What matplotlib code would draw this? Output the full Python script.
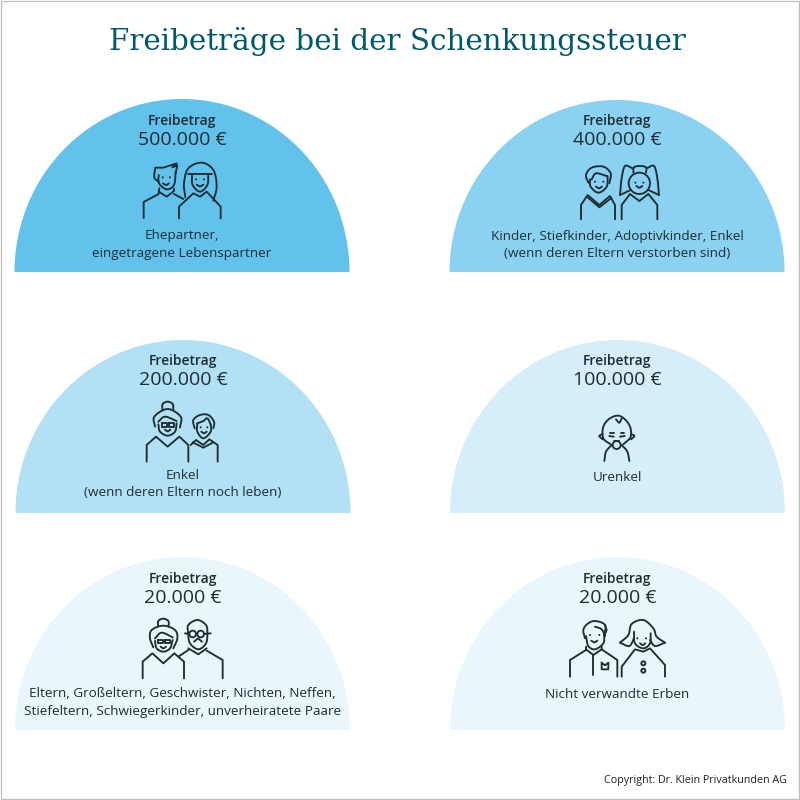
import numpy as np
import matplotlib
matplotlib.use('Agg')
import matplotlib.pyplot as plt
from matplotlib.patches import Polygon, Circle, Rectangle

# values from the chart
freibetrag = ['500.000 €', '400.000 €', '200.000 €', '100.000 €', '20.000 €', '20.000 €']
gruppen = ['Ehepartner,\neingetragene Lebenspartner',
           'Kinder, Stiefkinder, Adoptivkinder, Enkel\n(wenn deren Eltern verstorben sind)',
           'Enkel\n(wenn deren Eltern noch leben)',
           'Urenkel',
           'Eltern, Großeltern, Geschwister, Nichten, Neffen,\nStiefeltern, Schwiegerkinder, unverheiratete Paare',
           'Nicht verwandte Erben']

# layout and style
colors = ['#62c2ec', '#8bd2f2', '#b2e1f5', '#d6eef9', '#ebf6fc', '#ebf6fc']
centers_x = [182, 617, 183, 617.5, 182.5, 617.5]
base_y = [272, 272, 513, 513, 730, 730]
top_y = [99, 100, 340, 340, 557, 557]
half_w = [167.5, 167.5, 167.5, 167.5, 167.5, 167.5]
label_y = [121, 121, 361, 361, 579, 579]
gruppe_y = [244.5, 245, 484, 477.5, 702.5, 694.5]
ink = '#1f2d33'
plt.rcParams['font.family'] = ['Open Sans', 'DejaVu Sans']

fig = plt.figure(figsize=(8, 8), dpi=100)
ax = fig.add_axes([0, 0, 1, 1])
ax.set_xlim(0, 800)
ax.set_ylim(800, 0)
ax.axis('off')
ax.add_patch(Rectangle((0.5, 0.5), 798, 798, fill=False, ec='#bdbdbd', lw=0.9))


def smooth(pts, n=12):
    # catmull-rom through the given points
    p = np.array(pts, dtype=float)
    p = np.vstack([2 * p[0] - p[1], p, 2 * p[-1] - p[-2]])
    out = []
    t = np.linspace(0, 1, n)[:, None]
    for i in range(1, len(p) - 2):
        a, b, c, d = p[i - 1], p[i], p[i + 1], p[i + 2]
        out.append(0.5 * (2 * b + (c - a) * t + (2 * a - 5 * b + 4 * c - d) * t ** 2 + (3 * b - a - 3 * c + d) * t ** 3))
    return np.vstack(out)


class Icon:
    # draws in the coordinates of a 3x crop with origin x0, y0
    def __init__(self, x0, y0):
        self.x0 = x0
        self.y0 = y0

    def draw(self, pts):
        p = np.array(pts, dtype=float)
        ax.plot(self.x0 + p[:, 0] / 3, self.y0 + p[:, 1] / 3, color=ink, lw=1.35,
                solid_capstyle='round', solid_joinstyle='round')

    def line(self, *pts):
        self.draw(pts)

    def curve(self, *pts):
        self.draw(smooth(pts))

    def ring(self, x, y, r):
        ax.add_patch(Circle((self.x0 + x / 3, self.y0 + y / 3), r / 3, fill=False, ec=ink, lw=1.35))

    def dot(self, x, y):
        ax.add_patch(Circle((self.x0 + x / 3, self.y0 + y / 3), 1.0, fc=ink, ec='none'))

    def smile(self, x, y, w=11):
        self.curve((x - w, y), (x, y + 5), (x + w, y))


def icon_paar():
    i = Icon(0, 90)
    i.line((431, 384), (431, 336), (476, 312), (478, 295))
    i.line((476, 305), (500, 320), (522, 303), (522, 296))
    i.line((522, 312), (550, 327))
    i.curve((476, 255), (477, 280), (500, 298), (522, 285), (527, 245))
    i.curve((477, 276), (464, 265), (463, 250))
    i.line((463, 250), (466, 233), (490, 233), (530, 220), (517, 232), (532, 226), (527, 250))
    i.dot(488, 262)
    i.dot(510, 262)
    i.smile(498, 280, 9)
    i.curve((640, 332), (650, 290), (640, 240), (605, 218), (565, 235), (552, 280), (556, 322))
    i.line((563, 252), (637, 252))
    i.curve((576, 255), (578, 285), (600, 305), (622, 285), (625, 255))
    i.line((537, 385), (537, 350), (580, 310), (600, 320), (620, 305), (662, 350), (662, 385))
    i.dot(588, 268)
    i.dot(612, 268)
    i.smile(600, 284, 10)


def icon_kinder():
    i = Icon(440, 90)
    i.line((423, 388), (423, 345), (443, 315), (478, 345), (510, 318), (525, 345), (525, 388))
    i.line((443, 322), (478, 352), (514, 324))
    i.curve((445, 278), (438, 255), (455, 233), (490, 230), (512, 250), (508, 280))
    i.curve((450, 268), (452, 290), (475, 308), (500, 290), (503, 258))
    i.curve((455, 268), (468, 250), (500, 258))
    i.dot(465, 275)
    i.dot(490, 275)
    i.smile(477, 290, 9)
    i.line((545, 388), (545, 345), (570, 312), (598, 333), (625, 312), (652, 345), (652, 388))
    i.ring(598, 280, 32)
    i.curve((578, 235), (555, 228), (545, 265), (540, 315))
    i.line((540, 315), (572, 300))
    i.curve((620, 235), (642, 228), (652, 265), (657, 315))
    i.line((657, 315), (625, 300))
    i.curve((580, 248), (582, 232), (600, 228), (618, 232), (618, 248))
    i.dot(586, 278)
    i.dot(610, 278)
    i.smile(598, 288, 9)


def icon_oma_enkel():
    i = Icon(120, 395)
    i.curve((127, 43), (128, 27), (143, 20), (158, 27), (160, 43))
    i.curve((105, 95), (103, 65), (143, 42), (182, 65), (180, 98))
    i.curve((115, 88), (120, 110), (143, 122), (165, 110), (170, 85))
    i.curve((115, 80), (135, 65), (170, 78))
    i.line((125, 85), (140, 85), (140, 95), (125, 95), (125, 85))
    i.line((147, 85), (163, 85), (163, 95), (147, 95), (147, 85))
    i.smile(143, 104, 8)
    i.line((80, 200), (80, 150), (108, 125), (143, 155), (178, 125), (205, 150), (205, 200))
    i.line((293, 200), (293, 150), (268, 133), (250, 150), (228, 135), (212, 150))
    i.line((218, 142), (250, 158), (280, 142))
    i.curve((224, 100), (220, 75), (240, 60), (265, 60), (282, 80), (280, 100))
    i.curve((232, 85), (232, 110), (250, 130), (272, 110), (272, 88))
    i.curve((232, 85), (250, 78), (262, 70), (272, 88))
    i.dot(242, 97)
    i.dot(262, 97)
    i.smile(252, 110, 8)


def icon_baby():
    i = Icon(570, 400)
    i.curve((122, 133), (100, 115), (100, 80), (120, 55), (150, 48), (178, 75), (182, 110), (160, 133))
    i.curve((98, 102), (88, 108), (98, 118))
    i.curve((183, 102), (193, 108), (183, 118))
    i.curve((138, 58), (148, 68), (155, 55))
    i.ring(140, 135, 12)
    i.line((132, 124), (148, 124))
    i.line((118, 108), (131, 110))
    i.line((150, 110), (164, 108))
    i.line((120, 98), (131, 98))
    i.line((152, 98), (163, 98))
    i.curve((103, 183), (108, 155), (125, 135))
    i.curve((178, 183), (172, 155), (155, 135))


def icon_grosseltern():
    i = Icon(120, 610)
    i.curve((114, 49), (115, 33), (130, 26), (145, 33), (146, 49))
    i.curve((100, 112), (90, 85), (95, 60), (130, 47), (165, 60), (172, 85), (160, 115))
    i.curve((105, 92), (110, 115), (130, 125), (150, 115), (158, 90))
    i.curve((105, 85), (125, 68), (158, 82))
    i.line((115, 90), (129, 90), (129, 99), (115, 99), (115, 90))
    i.line((135, 90), (150, 90), (150, 99), (135, 99), (135, 90))
    i.smile(130, 110, 8)
    i.line((68, 205), (68, 155), (97, 130), (130, 160), (163, 130), (192, 155), (192, 205))
    i.curve((204, 70), (205, 45), (232, 30), (258, 45), (262, 70), (258, 100), (235, 118), (210, 100), (204, 70))
    i.ring(218, 72, 10)
    i.ring(242, 72, 10)
    i.line((195, 70), (208, 72))
    i.line((252, 72), (272, 70))
    i.line((222, 95), (234, 85), (246, 95))
    i.line((205, 115), (235, 133), (260, 115))
    i.line((260, 122), (308, 150), (308, 205))
    i.line((205, 120), (175, 140))


def icon_erben():
    i = Icon(560, 610)
    i.line((30, 200), (30, 150), (78, 120), (78, 110))
    i.line((78, 118), (100, 135), (125, 118), (125, 110))
    i.line((125, 118), (172, 150), (172, 200))
    i.line((100, 135), (100, 195))
    i.line((125, 158), (125, 178), (145, 178), (145, 158), (135, 166), (125, 158))
    i.curve((75, 85), (70, 60), (82, 42), (105, 33), (135, 45), (133, 78))
    i.curve((78, 78), (85, 108), (105, 118), (130, 100), (133, 75))
    i.curve((105, 50), (125, 58), (135, 78))
    i.line((135, 45), (140, 60), (133, 78))
    i.dot(90, 75)
    i.dot(118, 75)
    i.smile(103, 92, 9)
    i.curve((180, 98), (205, 75), (215, 42), (250, 30), (280, 55), (290, 80), (315, 98))
    i.curve((180, 98), (208, 108), (222, 85))
    i.curve((315, 98), (285, 108), (270, 90))
    i.curve((222, 65), (225, 100), (250, 115), (270, 100), (272, 70))
    i.line((185, 200), (185, 170), (225, 118), (250, 125), (270, 115), (315, 165), (315, 200))
    i.ring(250, 160, 6)
    i.ring(250, 182, 6)
    i.dot(232, 85)
    i.dot(258, 85)
    i.smile(248, 100, 8)


# title, slab letters in the reference
ax.text(397.5, 42, 'Freibeträge bei der Schenkungssteuer', ha='center', va='center',
        fontsize=21.2, color='#00596b', family='DejaVu Serif')

# half circles and their texts
theta = np.linspace(0, np.pi, 200)
for k in range(len(freibetrag)):
    xs = centers_x[k] + half_w[k] * np.cos(theta)
    ys = base_y[k] - (base_y[k] - top_y[k]) * np.sin(theta)
    ax.add_patch(Polygon(np.column_stack([xs, ys]), closed=True, fc=colors[k], ec='none'))
    ax.text(centers_x[k], label_y[k], 'Freibetrag', ha='center', va='center',
            fontsize=10, fontweight='semibold', color=ink)
    ax.text(centers_x[k], label_y[k] + 19, freibetrag[k], ha='center', va='center',
            fontsize=14, color=ink)
    ax.text(centers_x[k], gruppe_y[k], gruppen[k], ha='center', va='center',
            fontsize=9.7, color=ink, linespacing=1.42)

icon_paar()
icon_kinder()
icon_oma_enkel()
icon_baby()
icon_grosseltern()
icon_erben()

ax.text(787, 780.5, 'Copyright: Dr. Klein Privatkunden AG', ha='right', va='center',
        fontsize=7.75, color='#222222')

fig.savefig('out.png', dpi=100)
